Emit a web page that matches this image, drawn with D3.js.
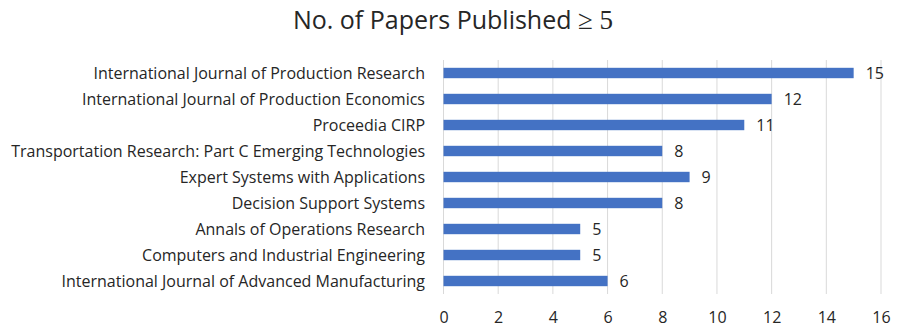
<!DOCTYPE html>
<html><head><meta charset="utf-8">
<script src="https://cdn.jsdelivr.net/npm/d3@7"></script>
<style>body{margin:0;background:#fff}</style>
</head><body>
<svg id="c" width="898" height="329"></svg>
<script>
const categories = [
  "International Journal of Production Research",
  "International Journal of Production Economics",
  "Proceedia CIRP",
  "Transportation Research: Part C Emerging Technologies",
  "Expert Systems with Applications",
  "Decision Support Systems",
  "Annals of Operations Research ",
  "Computers and Industrial Engineering",
  "International Journal of Advanced Manufacturing"
];
const values = [15, 12, 11, 8, 9, 8, 5, 5, 6];
const ticks = [0, 2, 4, 6, 8, 10, 12, 14, 16];

const svg = d3.select("#c");
const font = "'Open Sans', 'Noto Sans', sans-serif";
const x = d3.scaleLinear().domain([0, 16]).range([443.5, 881]);
const y = d3.scaleBand().domain(categories).range([60, 294]).paddingInner(0.6).paddingOuter(0.3);

// grid
svg.append("g").selectAll("line").data(ticks).join("line")
  .attr("x1", d => x(d)).attr("x2", d => x(d))
  .attr("y1", 60).attr("y2", 294)
  .attr("stroke", "#d9d9d9").attr("stroke-width", 1);

// bars
svg.append("g").selectAll("rect").data(values).join("rect")
  .attr("x", x(0)).attr("y", (d, i) => y(categories[i]))
  .attr("width", d => x(d) - x(0)).attr("height", y.bandwidth())
  .attr("fill", "#4472c4");

// value labels
svg.append("g").selectAll("text").data(values).join("text")
  .attr("x", d => x(d) + 12).attr("y", (d, i) => y(categories[i]) + y.bandwidth() / 2)
  .attr("dy", "0.38em").attr("font-family", font).attr("font-size", 16).attr("fill", "#262626")
  .text(d => d);

// category labels
svg.append("g").selectAll("text").data(categories).join("text")
  .attr("x", 425).attr("y", d => y(d) + y.bandwidth() / 2)
  .attr("dy", "0.35em").attr("text-anchor", "end")
  .attr("font-family", font).attr("font-size", 16).attr("fill", "#262626")
  .text(d => d);

// x axis labels
const ax = svg.append("g").attr("transform", "translate(0,300)")
  .call(d3.axisBottom(x).tickValues(ticks).tickSize(0).tickPadding(12));
ax.select(".domain").remove();
ax.selectAll("text").attr("font-family", font).attr("font-size", 16).attr("fill", "#262626");

// title
const t = svg.append("text").attr("x", 453).attr("y", 29).attr("text-anchor", "middle")
  .attr("font-family", font).attr("font-size", 25).attr("fill", "#262626");
t.append("tspan").text("No. of Papers Published  ");
t.append("tspan").attr("font-family", "'Liberation Serif', 'DejaVu Serif', serif").attr("font-size", 27).text("\u2265 5");
</script>
</body></html>
